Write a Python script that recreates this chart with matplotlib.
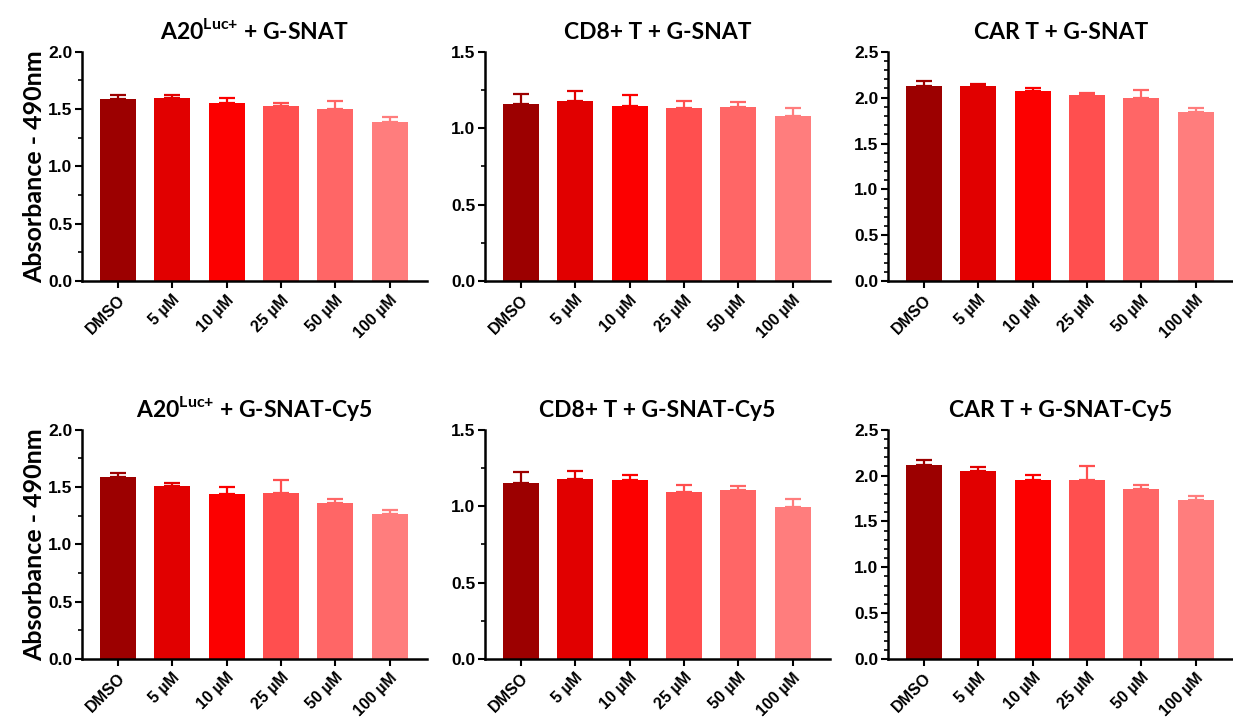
import numpy as np
import matplotlib
matplotlib.use('Agg')
import matplotlib.pyplot as plt
from matplotlib.ticker import MultipleLocator, FormatStrFormatter

plt.rcParams['font.family'] = ['Liberation Sans', 'DejaVu Sans']
plt.rcParams['mathtext.fontset'] = 'custom'
plt.rcParams['mathtext.rm'] = 'Lato:bold'
plt.rcParams['mathtext.bf'] = 'Lato:bold'

doses = ['DMSO', '5 µM', '10 µM', '25 µM', '50 µM', '100 µM']
bar_colors = ['#9c0000', '#e10000', '#fc0000', '#ff4f4f', '#ff6666', '#ff7d7d']

titles = ['A20$^{\\text{Luc+}}$ + G-SNAT', 'CD8+ T + G-SNAT', 'CAR T + G-SNAT',
          'A20$^{\\text{Luc+}}$ + G-SNAT-Cy5', 'CD8+ T + G-SNAT-Cy5', 'CAR T + G-SNAT-Cy5']

# mean absorbance and SEM per dose
a20_snat = [1.59, 1.595, 1.55, 1.53, 1.50, 1.39]
a20_snat_sem = [0.03, 0.025, 0.045, 0.025, 0.07, 0.04]
cd8_snat = [1.157, 1.18, 1.148, 1.131, 1.137, 1.083]
cd8_snat_sem = [0.07, 0.066, 0.066, 0.046, 0.033, 0.052]
car_snat = [2.13, 2.125, 2.067, 2.027, 2.0, 1.84]
car_snat_sem = [0.05, 0.022, 0.033, 0.025, 0.078, 0.05]
a20_cy5 = [1.585, 1.507, 1.443, 1.449, 1.362, 1.269]
a20_cy5_sem = [0.035, 0.032, 0.057, 0.116, 0.034, 0.029]
cd8_cy5 = [1.15, 1.176, 1.174, 1.091, 1.104, 0.995]
cd8_cy5_sem = [0.071, 0.052, 0.03, 0.048, 0.026, 0.052]
car_cy5 = [2.118, 2.046, 1.948, 1.955, 1.857, 1.73]
car_cy5_sem = [0.047, 0.051, 0.062, 0.148, 0.043, 0.044]

means = [a20_snat, cd8_snat, car_snat, a20_cy5, cd8_cy5, car_cy5]
sems = [a20_snat_sem, cd8_snat_sem, car_snat_sem, a20_cy5_sem, cd8_cy5_sem, car_cy5_sem]
y_max = [2.0, 1.5, 2.5, 2.0, 1.5, 2.5]
minor_step = [0.25, 0.25, 0.1, 0.25, 0.25, 0.1]

fig = plt.figure(figsize=(12.33, 7.19), dpi=100)
lefts = [0.0665, 0.3933, 0.7202]
bottoms = [0.609, 0.0834]

x = np.arange(len(doses))
for i in range(6):
    row, col = divmod(i, 3)
    ax = fig.add_axes([lefts[col], bottoms[row], 0.28, 0.319])
    for j in range(len(doses)):
        ax.bar(x[j], means[i][j], width=0.66, color=bar_colors[j], zorder=2)
        ax.errorbar(x[j], means[i][j], yerr=[[0], [sems[i][j]]], color=bar_colors[j],
                    capsize=5.5, elinewidth=1.6, capthick=1.6, zorder=1)
    ax.set_xlim(-0.66, 5.69)
    ax.set_ylim(0, y_max[i])
    ax.yaxis.set_major_locator(MultipleLocator(0.5))
    ax.yaxis.set_minor_locator(MultipleLocator(minor_step[i]))
    ax.yaxis.set_major_formatter(FormatStrFormatter('%.1f'))
    ax.set_xticks(x)
    ax.set_xticklabels(doses, rotation=45, ha='right', rotation_mode='anchor')
    for sp in ['top', 'right']:
        ax.spines[sp].set_visible(False)
    for sp in ['left', 'bottom']:
        ax.spines[sp].set_linewidth(1.8)
    ax.tick_params(axis='y', which='major', length=5, width=1.5, labelsize=12.5, pad=2)
    ax.tick_params(axis='x', which='major', length=5, width=1.5, labelsize=11.5, pad=3)
    ax.tick_params(axis='y', which='minor', length=3, width=1.2)
    for lbl in ax.get_xticklabels() + ax.get_yticklabels():
        lbl.set_fontweight('bold')
    ax.set_title(titles[i], fontsize=16.5, fontweight='bold', family='Lato', pad=9)
    if col == 0:
        ax.set_ylabel('Absorbance - 490nm', fontsize=18, fontweight='bold', family='Lato', labelpad=1)

fig.savefig('out.png', dpi=100)
